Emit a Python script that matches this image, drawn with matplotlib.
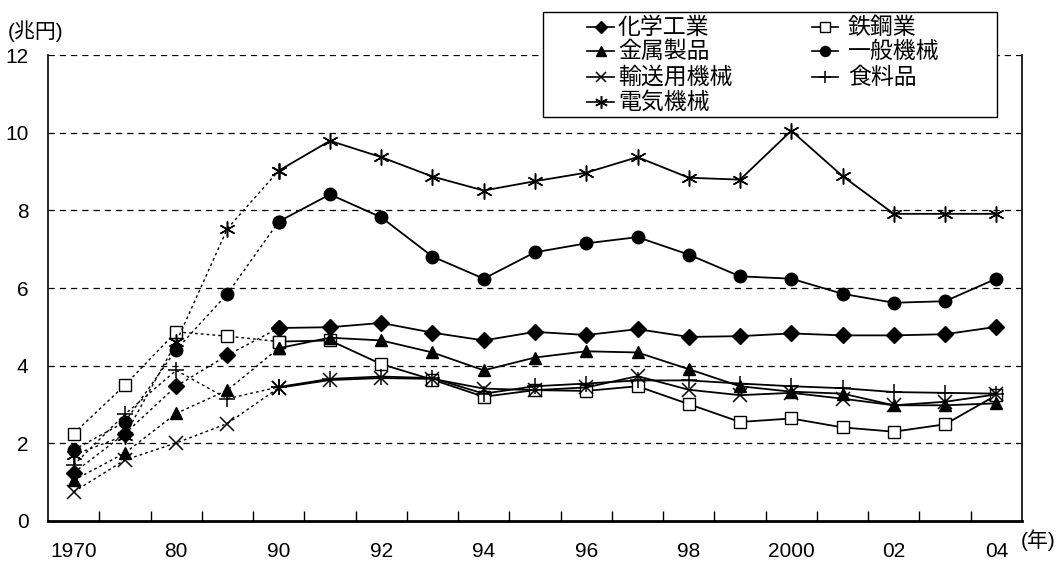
import matplotlib

matplotlib.use("Agg")
import matplotlib.pyplot as plt
import numpy as np
from matplotlib.lines import Line2D
from matplotlib.patches import Rectangle

plt.rcParams["font.family"] = ["Liberation Sans", "Noto Sans CJK JP", "DejaVu Sans"]

# categories: 1970, 75, 80, 85 then yearly 1990-2004
categories = ["1970", "75", "80", "85", "90", "91", "92", "93", "94", "95",
              "96", "97", "98", "99", "2000", "01", "02", "03", "04"]
shown_labels = ["1970", "80", "90", "92", "94", "96", "98", "2000", "02", "04"]

chemical = [1.24, 2.25, 3.47, 4.27, 4.97, 4.99, 5.10, 4.85, 4.65, 4.87,
            4.79, 4.94, 4.74, 4.76, 4.83, 4.78, 4.78, 4.81, 5.00]
steel = [2.25, 3.50, 4.87, 4.76, 4.62, 4.65, 4.04, 3.64, 3.20, 3.37,
         3.35, 3.47, 3.01, 2.55, 2.64, 2.41, 2.30, 2.49, 3.24]
metal = [1.05, 1.75, 2.77, 3.37, 4.45, 4.72, 4.65, 4.34, 3.88, 4.21,
         4.37, 4.34, 3.91, 3.47, 3.33, 3.28, 2.98, 2.98, 3.03]
general = [1.83, 2.55, 4.41, 5.85, 7.71, 8.41, 7.82, 6.81, 6.24, 6.92,
           7.15, 7.31, 6.86, 6.30, 6.24, 5.85, 5.62, 5.66, 6.24]
transport = [0.75, 1.57, 2.01, 2.51, 3.43, 3.63, 3.68, 3.66, 3.41, 3.37,
             3.44, 3.73, 3.38, 3.24, 3.30, 3.15, 2.98, 3.07, 3.26]
food = [1.44, 2.75, 3.88, 3.15, 3.45, 3.66, 3.72, 3.68, 3.28, 3.47,
        3.54, 3.62, 3.62, 3.54, 3.47, 3.42, 3.32, 3.30, 3.28]
electric = [1.70, 2.20, 4.60, 7.53, 9.02, 9.79, 9.37, 8.87, 8.51, 8.75,
            8.97, 9.37, 8.84, 8.79, 10.05, 8.88, 7.91, 7.91, 7.91]

series = [
    ("化学工業", chemical, dict(marker="D", ms=8, mfc="black")),
    ("鉄鋼業", steel, dict(marker="s", ms=8.5, mfc="white")),
    ("金属製品", metal, dict(marker="^", ms=9, mfc="black")),
    ("一般機械", general, dict(marker="o", ms=9, mfc="black")),
    ("輸送用機械", transport, dict(marker="x", ms=9.5, mew=1.1)),
    ("食料品", food, dict(marker="+", ms=11.5, mew=1.1)),
    ("電気機械", electric, dict(marker=(6, 2, 0), ms=11.5, mew=1.1)),
]

W, H = 1058, 561
fig = plt.figure(figsize=(W / 100, H / 100), dpi=100)
ax = fig.add_axes([48 / W, 40 / H, 974 / W, 466 / H])

x = np.arange(len(categories))
split = categories.index("90")
for name, vals, style in series:
    vals = np.asarray(vals)
    # 1970-1990: five-year steps, drawn dotted
    ax.plot(x[: split + 1], vals[: split + 1], color="black", lw=1.0,
            linestyle=(0, (2, 2.2)), mec="black", zorder=3, **style)
    ax.plot(x[split:], vals[split:], color="black", lw=1.3,
            mec="black", zorder=3, **style)

ax.set_xlim(-0.5, len(categories) - 0.5)
ax.set_ylim(0, 12)
ax.set_yticks(np.arange(0, 13, 2))
ax.tick_params(axis="y", length=0, pad=14, labelsize=15)
for yv in range(2, 13, 2):
    ax.axhline(yv, color="black", lw=0.9, linestyle=(0, (5, 4)), zorder=1)

tick_pos = [categories.index(lbl) for lbl in shown_labels]
ax.set_xticks(tick_pos)
ax.set_xticklabels(shown_labels)
ax.tick_params(axis="x", which="major", length=0, pad=15, labelsize=15)
ax.set_xticks(np.arange(0.5, len(categories) - 1, 1.0), minor=True)
ax.tick_params(axis="x", which="minor", direction="in", length=7, width=1)

ax.spines["top"].set_visible(False)
for side in ("left", "bottom", "right"):
    ax.spines[side].set_linewidth(1.2)
ax.spines["bottom"].set_linewidth(2)

fig.text(8 / W, 1 - 31 / H, "(兆円)", fontsize=15, va="center", ha="left")
fig.text(1056 / W, 1 - 540 / H, "(年)", fontsize=15, va="center", ha="right")

# legend drawn by hand: box, short line + marker, label
fig.patches.append(Rectangle((543 / W, 1 - 117 / H), 454 / W, 105 / H,
                             transform=fig.transFigure, facecolor="white",
                             edgecolor="black", lw=1.0, zorder=10))
leg_layout = [  # (name, column, row)
    ("化学工業", 0, 0), ("鉄鋼業", 1, 0),
    ("金属製品", 0, 1), ("一般機械", 1, 1),
    ("輸送用機械", 0, 2), ("食料品", 1, 2),
    ("電気機械", 0, 3),
]
col_x = [(587, 614, 618), (812, 838, 848)]
row_y = [27, 51, 77, 102]
styles = {name: style for name, _, style in series}
for name, col, row in leg_layout:
    x0, x1, xt = col_x[col]
    yy = 1 - row_y[row] / H
    st = dict(styles[name])
    st["ms"] = st["ms"] * 0.8
    fig.lines.append(Line2D([x0 / W, x1 / W], [yy, yy], transform=fig.transFigure,
                            color="black", lw=1.2, zorder=11))
    fig.lines.append(Line2D([(x0 + x1) / 2 / W], [yy], transform=fig.transFigure,
                            color="black", mec="black", zorder=12, **st))
    fig.text(xt / W, yy, name, fontsize=16.5, va="center", ha="left", zorder=12)

fig.savefig("out.png", dpi=100)
